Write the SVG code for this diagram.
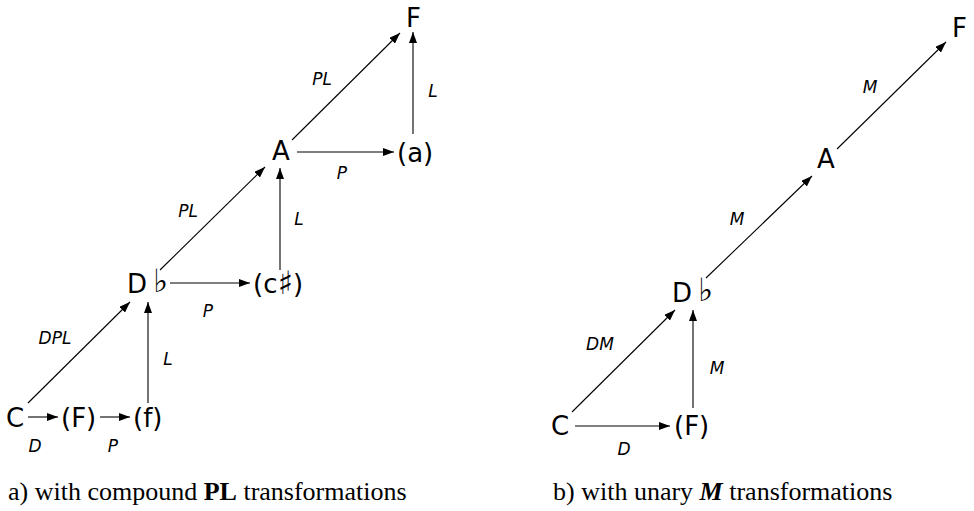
<svg xmlns="http://www.w3.org/2000/svg" width="974" height="511" viewBox="0 0 974 511">
<defs>
<marker id="ah" viewBox="0 0 11 8" refX="11" refY="4" markerWidth="11" markerHeight="8" markerUnits="userSpaceOnUse" orient="auto">
<path d="M0,0 L11,4 L0,8 Z" fill="#000"/>
</marker>
<style>
.n{font-family:"DejaVu Sans",sans-serif;font-size:26px;fill:#000}
.acc{font-family:"DejaVu Sans",sans-serif;font-size:32px;fill:#000}
.l{font-family:"DejaVu Sans",sans-serif;font-style:italic;font-size:17px;fill:#000;text-anchor:middle}
.c{font-family:"Liberation Serif",serif;font-size:26px;fill:#000}
.e{stroke:#000;stroke-width:1.1;fill:none;marker-end:url(#ah)}
</style>
</defs>
<rect width="974" height="511" fill="#fff"/>
<g id="connectors">
<line class="e" x1="292" y1="140" x2="400" y2="33"/>
<line class="e" x1="413" y1="134" x2="413" y2="32"/>
<line class="e" x1="297" y1="152" x2="394" y2="152"/>
<line class="e" x1="160" y1="270" x2="265" y2="167"/>
<line class="e" x1="280" y1="270" x2="280" y2="168"/>
<line class="e" x1="170" y1="283" x2="250" y2="283"/>
<line class="e" x1="28" y1="403" x2="130" y2="302"/>
<line class="e" x1="148" y1="403" x2="148" y2="302"/>
<line class="e" x1="28" y1="417" x2="58" y2="417"/>
<line class="e" x1="100" y1="417" x2="130" y2="417"/>
<line class="e" x1="837" y1="149" x2="946" y2="42"/>
<line class="e" x1="706" y1="278" x2="812" y2="176"/>
<line class="e" x1="572" y1="412" x2="675" y2="310"/>
<line class="e" x1="693" y1="408" x2="693" y2="310"/>
<line class="e" x1="575" y1="426" x2="670" y2="426"/>
</g>
<g id="labels">
<text class="l" x="322" y="85">PL</text>
<text class="l" x="433" y="97">L</text>
<text class="l" x="342" y="179">P</text>
<text class="l" x="188" y="217">PL</text>
<text class="l" x="299" y="225">L</text>
<text class="l" x="208" y="317">P</text>
<text class="l" x="55" y="344">DPL</text>
<text class="l" x="168" y="365">L</text>
<text class="l" x="35" y="452">D</text>
<text class="l" x="113" y="452">P</text>
<text class="l" x="870" y="93">M</text>
<text class="l" x="737" y="225">M</text>
<text class="l" x="600" y="350">DM</text>
<text class="l" x="717" y="374">M</text>
<text class="l" x="624" y="455">D</text>
</g>
<g id="node-a-F"><text class="n" x="406" y="27">F</text></g>
<g id="node-a-A"><text class="n" x="272" y="160">A</text></g>
<g id="node-a-a"><text class="n" x="397" y="162">(a)</text></g>
<g id="node-a-Db"><text class="n" x="127" y="293">D</text><text class="acc" x="153" y="292">♭</text></g>
<g id="node-a-cs"><text class="n" x="253" y="293">(c<tspan class="acc" dy="1">♯</tspan><tspan dy="-1">)</tspan></text></g>
<g id="node-a-C"><text class="n" x="6" y="427">C</text></g>
<g id="node-a-F2"><text class="n" x="61" y="427">(F)</text></g>
<g id="node-a-f"><text class="n" x="133" y="427">(f)</text></g>
<g id="node-b-F"><text class="n" x="952" y="37">F</text></g>
<g id="node-b-A"><text class="n" x="817" y="168">A</text></g>
<g id="node-b-Db"><text class="n" x="672" y="302">D</text><text class="acc" x="698" y="301">♭</text></g>
<g id="node-b-C"><text class="n" x="551" y="435">C</text></g>
<g id="node-b-F2"><text class="n" x="674" y="435">(F)</text></g>
<text class="c" x="8" y="500">a) with compound <tspan font-weight="bold">PL</tspan> transformations</text>
<text class="c" x="553" y="500">b) with unary <tspan font-weight="bold" font-style="italic">M</tspan> transformations</text>
</svg>
